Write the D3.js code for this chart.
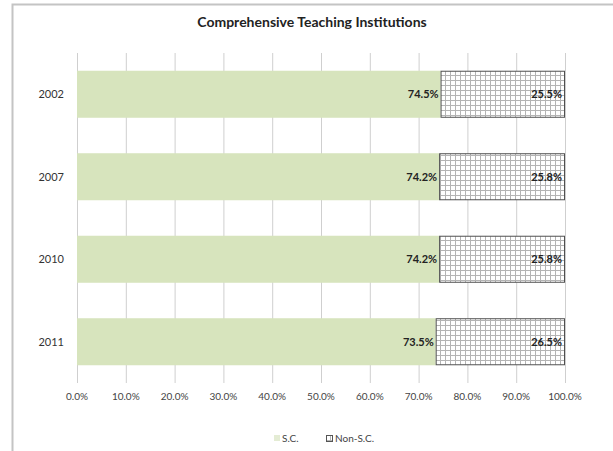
<!DOCTYPE html>
<html><head><meta charset="utf-8">
<script src="https://cdn.jsdelivr.net/npm/d3@7/dist/d3.min.js"></script>
<style>body{margin:0;background:#fff}</style>
</head><body>
<svg id="c" width="613" height="451"></svg>
<script>
const title = "Comprehensive Teaching Institutions";
const categories = ["2002", "2007", "2010", "2011"];
const scValues = [74.5, 74.2, 74.2, 73.5];
const nonScValues = [25.5, 25.8, 25.8, 26.5];
const scLabels = ["74.5%", "74.2%", "74.2%", "73.5%"];
const nonScLabels = ["25.5%", "25.8%", "25.8%", "26.5%"];
const xTicks = [0,10,20,30,40,50,60,70,80,90,100];
const seriesNames = ["S.C.", "Non-S.C."];

const font = "Lato, 'Open Sans', sans-serif";
const svg = d3.select("#c");
const defs = svg.append("defs");
const pat = defs.append("pattern").attr("id","grid").attr("patternUnits","userSpaceOnUse")
  .attr("width",5).attr("height",5);
pat.append("rect").attr("width",5).attr("height",5).attr("fill","#fff");
pat.append("path").attr("d","M0 0.5H5M0.5 0V5").attr("stroke","#b4b4b4").attr("stroke-width",1);

// frame
svg.append("path").attr("d","M12.5 451V4.5H613").attr("fill","none").attr("stroke","#c4c4c4").attr("stroke-width",2);

const x = d3.scaleLinear().domain([0,100]).range([77,565]);
const y = d3.scaleBand().domain(categories).range([53,383]).paddingInner(0.43).paddingOuter(0.215);

// title
svg.append("text").attr("x",312).attr("y",27).attr("text-anchor","middle")
  .attr("font-family",font).attr("font-weight","bold").attr("font-size",14).attr("fill","#222").text(title);

// gridlines
svg.append("g").selectAll("line").data(xTicks).join("line")
  .attr("x1",d=>x(d)+0.5).attr("x2",d=>x(d)+0.5).attr("y1",53).attr("y2",383)
  .attr("stroke","#cfcfcf").attr("stroke-width",1);

// bars
const rows = categories.map((c,i)=>({c, sc:scValues[i], ns:nonScValues[i], sl:scLabels[i], nl:nonScLabels[i]}));
svg.append("g").selectAll("rect").data(rows).join("rect")
  .attr("x",x(0)).attr("y",d=>y(d.c)).attr("width",d=>x(d.sc)-x(0)).attr("height",y.bandwidth())
  .attr("fill","#d7e4bd");
svg.append("g").selectAll("rect").data(rows).join("rect")
  .attr("x",d=>x(d.sc)+0.5).attr("y",d=>y(d.c)+0.5).attr("width",d=>x(d.sc+d.ns)-x(d.sc)-1).attr("height",y.bandwidth()-1)
  .attr("fill","url(#grid)").attr("stroke","#505050").attr("stroke-width",1);

// value labels
const lab = svg.append("g").attr("font-family",font).attr("font-weight","bold").attr("font-size",11).attr("fill","#222");
lab.selectAll("text.a").data(rows).join("text").attr("class","a")
  .attr("x",d=>x(d.sc)-2).attr("y",d=>y(d.c)+y.bandwidth()/2+4).attr("text-anchor","end").text(d=>d.sl);
lab.selectAll("text.b").data(rows).join("text").attr("class","b")
  .attr("x",d=>x(d.sc+d.ns)-3).attr("y",d=>y(d.c)+y.bandwidth()/2+4).attr("text-anchor","end").text(d=>d.nl);

// y axis labels
svg.append("g").selectAll("text").data(categories).join("text")
  .attr("x",64).attr("y",d=>y(d)+y.bandwidth()/2+4).attr("text-anchor","end")
  .attr("font-family",font).attr("font-size",11).attr("fill","#333").text(d=>d);

// x axis labels
svg.append("g").selectAll("text").data(xTicks).join("text")
  .attr("x",d=>x(d)).attr("y",400).attr("text-anchor","middle")
  .attr("font-family",font).attr("font-size",10).attr("fill","#444").text(d=>d3.format(".1f")(d)+"%");

// legend
const lg = svg.append("g").attr("font-family",font).attr("font-size",10).attr("fill","#444");
lg.append("rect").attr("x",274).attr("y",435).attr("width",6).attr("height",6).attr("fill","#e4ecd4");
lg.append("text").attr("x",282).attr("y",442).text(seriesNames[0]);
lg.append("rect").attr("x",326.5).attr("y",435.5).attr("width",6).attr("height",6).attr("fill","url(#grid)").attr("stroke","#555");
lg.append("text").attr("x",335).attr("y",442).text(seriesNames[1]);
</script>
</body></html>
